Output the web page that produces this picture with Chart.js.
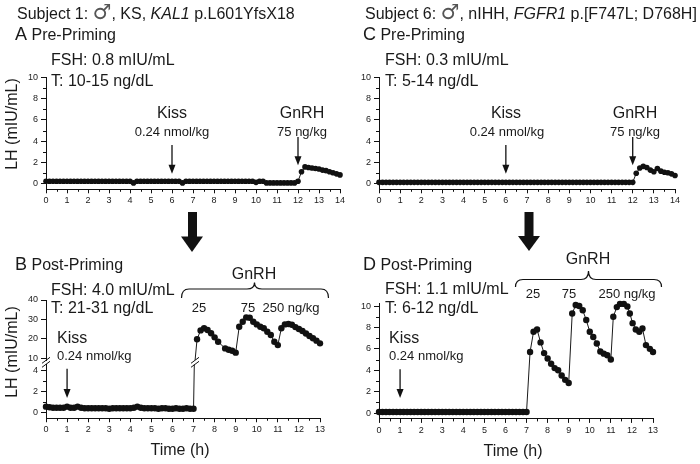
<!DOCTYPE html>
<html>
<head>
<meta charset="utf-8">
<script src="https://cdn.jsdelivr.net/npm/chart.js@4.4.1/dist/chart.umd.min.js"></script>
<style>
  body { margin: 0; background: #fff; }
  #fig { position: relative; width: 700px; height: 464px; overflow: hidden;
         font-family: "Liberation Sans", Arial, sans-serif; color: #1a1a1a; }
  #fig canvas, #fig svg { position: absolute; }
  .t { position: absolute; white-space: nowrap; line-height: 1; font-size: 16px; }
  .c { transform: translateX(-50%); }
  .s { font-size: 13px; }
  .sex { font-family: "DejaVu Sans", sans-serif; font-size: 21px; color: #555; }
</style>
</head>
<body>
<div id="fig">
  <canvas id="chartA" width="350" height="150" style="left:0;top:60px"></canvas>
  <canvas id="chartC" width="350" height="150" style="left:350px;top:60px"></canvas>
  <canvas id="chartBtop" width="350" height="80" style="left:0;top:290px"></canvas>
  <canvas id="chartBlow" width="350" height="90" style="left:0;top:350px"></canvas>
  <canvas id="chartD" width="350" height="150" style="left:350px;top:290px"></canvas>

  <svg width="700" height="464" style="left:0;top:0">
    <g fill="#111">
      <rect x="188" y="212" width="9" height="26"/>
      <polygon points="181,236.5 203,236.5 192,252"/>
      <rect x="524.5" y="212" width="9" height="26"/>
      <polygon points="518,236 540,236 529,251"/>
    </g>
    <g fill="none" stroke="#111" stroke-width="1.2">
      <path d="M181.5,298 Q181.5,289 189,289 L247,289 Q254.5,289 254.5,282.5 Q254.5,289 262,289 L321,289 Q328.5,289 328.5,298"/>
      <path d="M515.5,287 Q515.5,279.5 523,279.5 L581,279.5 Q588.5,279.5 588.5,271 Q588.5,279.5 596,279.5 L654,279.5 Q661.5,279.5 661.5,287"/>
    </g>
  </svg>

  <div class="t" style="left:17px;top:2px">Subject 1: <span class="sex">♂</span>, KS, <i>KAL1</i> p.L601YfsX18</div>
  <div class="t" style="left:365px;top:2px">Subject 6: <span class="sex">♂</span>, nIHH, <i>FGFR1</i> p.[F747L; D768H]</div>
  <div class="t" style="left:15px;top:25px"><span style="font-size:18px">A</span> Pre-Priming</div>
  <div class="t" style="left:363px;top:25px"><span style="font-size:18px">C</span> Pre-Priming</div>
  <div class="t" style="left:51px;top:52px">FSH: 0.8 mIU/mL</div>
  <div class="t" style="left:51px;top:72.5px">T: 10-15 ng/dL</div>
  <div class="t" style="left:385px;top:52px">FSH: 0.3 mIU/mL</div>
  <div class="t" style="left:385px;top:72.5px">T: 5-14 ng/dL</div>
  <div class="t c" style="left:172px;top:105px">Kiss</div>
  <div class="t c s" style="left:172px;top:124.5px">0.24 nmol/kg</div>
  <div class="t c" style="left:302px;top:105px">GnRH</div>
  <div class="t c s" style="left:302px;top:124.5px">75 ng/kg</div>
  <div class="t c" style="left:506px;top:105px">Kiss</div>
  <div class="t c s" style="left:507px;top:124.5px">0.24 nmol/kg</div>
  <div class="t c" style="left:635px;top:105px">GnRH</div>
  <div class="t c s" style="left:635px;top:124.5px">75 ng/kg</div>

  <div class="t" style="left:15px;top:255px"><span style="font-size:18px">B</span> Post-Priming</div>
  <div class="t" style="left:363px;top:255px"><span style="font-size:18px">D</span> Post-Priming</div>
  <div class="t" style="left:51px;top:282px">FSH: 4.0 mIU/mL</div>
  <div class="t" style="left:51px;top:300px">T: 21-31 ng/dL</div>
  <div class="t" style="left:385px;top:281px">FSH: 1.1 mIU/mL</div>
  <div class="t" style="left:385px;top:300px">T: 6-12 ng/dL</div>
  <div class="t" style="left:57px;top:329.5px">Kiss</div>
  <div class="t s" style="left:57px;top:348.5px">0.24 nmol/kg</div>
  <div class="t" style="left:389px;top:329.5px">Kiss</div>
  <div class="t s" style="left:389px;top:348.5px">0.24 nmol/kg</div>
  <div class="t c" style="left:254px;top:266px">GnRH</div>
  <div class="t c s" style="left:199px;top:300.5px">25</div>
  <div class="t c s" style="left:248px;top:300.5px">75</div>
  <div class="t c s" style="left:291px;top:300.5px">250 ng/kg</div>
  <div class="t c" style="left:588px;top:251px">GnRH</div>
  <div class="t c s" style="left:533px;top:286.5px">25</div>
  <div class="t c s" style="left:569px;top:286.5px">75</div>
  <div class="t c s" style="left:627px;top:286.5px">250 ng/kg</div>
  <div class="t c" style="left:180px;top:442px">Time (h)</div>
  <div class="t c" style="left:513px;top:443px">Time (h)</div>
  <div class="t" style="left:12px;top:124px;transform:translate(-50%,-50%) rotate(-90deg)">LH (mIU/mL)</div>
  <div class="t" style="left:12px;top:352px;transform:translate(-50%,-50%) rotate(-90deg)">LH (mIU/mL)</div>
</div>

<script>
// sampling times (minutes) and LH (mIU/mL)
const timesPre = [0,10,20,30,40,50,60,70,80,90,
  100,110,120,130,140,150,160,170,180,190,
  200,210,220,230,240,250,260,270,280,290,
  300,310,320,330,340,350,360,370,380,390,
  400,410,420,430,440,450,460,470,480,490,
  500,510,520,530,540,550,560,570,580,590,
  600,610,620,630,640,650,660,670,680,690,
  700,710,720,730,740,750,760,770,780,790,
  800,810,820,830,840];

const lhA = [0.25,0.25,0.25,0.25,0.25,0.25,0.25,0.25,0.25,0.25,
  0.25,0.25,0.25,0.25,0.25,0.25,0.25,0.25,0.25,0.25,
  0.25,0.25,0.25,0.25,0.25,0.1,0.25,0.25,0.25,0.25,
  0.25,0.25,0.25,0.25,0.25,0.25,0.25,0.25,0.25,0.1,
  0.25,0.25,0.25,0.25,0.25,0.25,0.25,0.25,0.25,0.25,
  0.25,0.25,0.25,0.25,0.25,0.25,0.25,0.25,0.25,0.25,
  0.15,0.25,0.25,0.1,0.1,0.1,0.1,0.1,0.1,0.1,
  0.1,0.1,0.25,1.15,1.6,1.55,1.5,1.45,1.4,1.3,
  1.25,1.15,1.05,0.95,0.85];

const lhC = [0.15,0.15,0.15,0.15,0.15,0.15,0.15,0.15,0.15,0.15,
  0.15,0.15,0.15,0.15,0.15,0.15,0.15,0.15,0.15,0.15,
  0.15,0.15,0.15,0.15,0.15,0.15,0.15,0.15,0.15,0.15,
  0.15,0.15,0.15,0.15,0.15,0.15,0.15,0.15,0.15,0.15,
  0.15,0.15,0.15,0.15,0.15,0.15,0.15,0.15,0.15,0.15,
  0.15,0.15,0.15,0.15,0.15,0.15,0.15,0.15,0.15,0.15,
  0.15,0.15,0.15,0.15,0.15,0.15,0.15,0.15,0.15,0.15,
  0.15,0.15,0.15,1.0,1.5,1.65,1.55,1.3,1.15,1.45,
  1.2,1.1,1.05,0.95,0.8];

const timesB = [0,10,20,30,40,50,60,70,80,90,
  100,110,120,130,140,150,160,170,180,190,
  200,210,220,230,240,250,260,270,280,290,
  300,310,320,330,340,350,360,370,380,390,
  400,410,420,
  430,440,450,460,470,480,490,
  510,520,530,540,
  550,560,570,580,590,600,610,620,630,640,650,660,
  670,680,690,700,710,720,730,740,750,760,770,780];

const lhB = [0.6,0.55,0.5,0.5,0.5,0.5,0.6,0.5,0.5,0.6,
  0.5,0.45,0.45,0.45,0.45,0.45,0.45,0.45,0.4,0.45,
  0.45,0.45,0.45,0.45,0.45,0.5,0.6,0.5,0.45,0.45,
  0.45,0.45,0.4,0.45,0.45,0.4,0.4,0.45,0.4,0.4,
  0.45,0.4,0.4,
  19.7,24.3,25.4,24.5,22.8,20.7,18.4,
  15.0,14.3,13.8,12.8,
  26.2,28.8,31.0,30.8,28.8,27.4,26.2,25.4,23.6,21.9,18.4,16.7,
  25.4,27.4,27.6,27.2,26.0,25.0,24.0,22.7,21.4,20.2,19.0,17.6];

const timesD = [0,10,20,30,40,50,60,70,80,90,
  100,110,120,130,140,150,160,170,180,190,
  200,210,220,230,240,250,260,270,280,290,
  300,310,320,330,340,350,360,370,380,390,
  400,410,420,
  430,440,450,460,470,480,490,500,510,520,530,540,
  550,560,570,580,590,600,610,620,630,640,650,660,
  667,677,686,697,707,714,722,731,741,750,760,771,780];

const lhD = [0.1,0.1,0.1,0.1,0.1,0.1,0.1,0.1,0.1,0.1,
  0.1,0.1,0.1,0.1,0.1,0.1,0.1,0.1,0.1,0.1,
  0.1,0.1,0.1,0.1,0.1,0.1,0.1,0.1,0.1,0.1,
  0.1,0.1,0.1,0.1,0.1,0.1,0.1,0.1,0.1,0.1,
  0.1,0.1,0.1,
  5.7,7.6,7.8,6.6,5.6,5.1,4.6,4.2,4.0,3.5,3.1,2.8,
  9.3,10.1,10.0,9.6,8.7,7.6,7.1,6.5,5.75,5.55,5.4,5.0,
  9.0,9.9,10.2,10.2,9.95,9.3,8.4,7.8,7.6,7.9,6.35,6.0,5.7];

// axis ticks
const hours14 = [0,1,2,3,4,5,6,7,8,9,10,11,12,13,14];
const hours13 = [0,1,2,3,4,5,6,7,8,9,10,11,12,13];
const half14 = [0.5,1.5,2.5,3.5,4.5,5.5,6.5,7.5,8.5,9.5,10.5,11.5,12.5,13.5];
const half13 = [0.5,1.5,2.5,3.5,4.5,5.5,6.5,7.5,8.5,9.5,10.5,11.5,12.5];
const lhTicks10 = [0,2,4,6,8,10];
const lhMinor10 = [1,3,5,7,9];
const lhTicksHigh = [10,20,30,40];
const lhTicksLow = [0,2,4];
const lhMinorLow = [1,3];

Chart.defaults.font.family = '"Liberation Sans", Arial, sans-serif';
Chart.defaults.color = '#222';

function series(times, values) {
  return times.map((m, i) => ({ x: m / 60, y: values[i] }));
}

// minor ticks, dose arrows and axis breaks
function deco(o) {
  return {
    id: 'deco',
    afterDatasetsDraw(chart) {
      const ctx = chart.ctx, a = chart.chartArea;
      const x = chart.scales.x, y = chart.scales.y;
      ctx.save();
      ctx.strokeStyle = '#111';
      ctx.fillStyle = '#111';
      ctx.lineWidth = 1;
      ctx.beginPath();
      (o.xMinor || []).forEach(v => {
        const p = Math.round(x.getPixelForValue(v)) + 0.5;
        ctx.moveTo(p, a.bottom);
        ctx.lineTo(p, a.bottom + 2.5);
      });
      (o.yMinor || []).forEach(v => {
        const p = Math.round(y.getPixelForValue(v)) + 0.5;
        ctx.moveTo(a.left - 3, p);
        ctx.lineTo(a.left, p);
      });
      ctx.stroke();

      (o.arrows || []).forEach(ar => {
        const px = x.getPixelForValue(ar.x);
        const p1 = y.getPixelForValue(ar.from), p2 = y.getPixelForValue(ar.to);
        ctx.beginPath();
        ctx.lineWidth = 1.3;
        ctx.moveTo(px, p1);
        ctx.lineTo(px, p2 - 7);
        ctx.stroke();
        ctx.beginPath();
        ctx.moveTo(px - 3.5, p2 - 9);
        ctx.lineTo(px + 3.5, p2 - 9);
        ctx.lineTo(px, p2);
        ctx.closePath();
        ctx.fill();
      });

      ctx.lineWidth = 1;
      (o.breaks || []).forEach(v => {
        const px = x.getPixelForValue(v), yc = a.top - 2.2;
        ctx.beginPath();
        [-2, 2].forEach(d => {
          ctx.moveTo(px - 4, yc + d + 3);
          ctx.lineTo(px + 4, yc + d - 3);
        });
        ctx.stroke();
      });
      ctx.restore();
    }
  };
}

function panel(id, o) {
  const tickFont = { size: 9 };
  return new Chart(document.getElementById(id), {
    type: 'line',
    data: {
      datasets: [{
        data: series(o.times, o.values),
        borderColor: '#1a1a1a',
        borderWidth: 1,
        pointRadius: o.r,
        pointHoverRadius: o.r,
        pointBackgroundColor: '#111',
        pointBorderWidth: 0,
        tension: 0,
        clip: o.clip
      }]
    },
    options: {
      responsive: false,
      animation: false,
      events: [],
      layout: { padding: o.pad },
      plugins: { legend: { display: false }, tooltip: { enabled: false } },
      scales: {
        x: {
          type: 'linear',
          min: 0,
          max: o.xTicks[o.xTicks.length - 1],
          display: o.showX !== false,
          afterBuildTicks: s => { s.ticks = o.xTicks.map(v => ({ value: v })); },
          afterFit: s => { s.height = o.xH; },
          ticks: { font: tickFont, padding: 2, maxRotation: 0, autoSkip: false },
          grid: { drawOnChartArea: false, tickLength: 4, color: '#111' },
          border: { color: '#111', width: 1 }
        },
        y: {
          min: o.yMin,
          max: o.yMax,
          afterBuildTicks: s => { s.ticks = o.yTicks.map(v => ({ value: v })); },
          afterFit: s => { s.width = o.yW; },
          ticks: { font: tickFont, padding: 3 },
          grid: { drawOnChartArea: false, tickLength: 5, color: '#111' },
          border: { color: '#111', width: 1 }
        }
      }
    },
    plugins: [deco(o)]
  });
}

// A - pre-priming, subject 1
panel('chartA', {
  times: timesPre, values: lhA, r: 2.8, clip: 5,
  pad: { left: 0, top: 17.3, right: 10, bottom: 0 }, yW: 46, xH: 20.7,
  xTicks: hours14, xMinor: half14,
  yMin: -0.5, yMax: 10, yTicks: lhTicks10, yMinor: lhMinor10,
  arrows: [{ x: 6, from: 3.66, to: 0.95 }, { x: 12, from: 4.4, to: 1.75 }]
});

// C - pre-priming, subject 6
panel('chartC', {
  times: timesPre, values: lhC, r: 2.8, clip: 5,
  pad: { left: 0, top: 17.3, right: 25, bottom: 0 }, yW: 29, xH: 20.7,
  xTicks: hours14, xMinor: half14,
  yMin: -0.5, yMax: 10, yTicks: lhTicks10, yMinor: lhMinor10,
  arrows: [{ x: 6, from: 3.66, to: 0.95 }, { x: 12, from: 4.4, to: 1.75 }]
});

// B - post-priming, subject 1 (broken y axis: upper and lower segments)
panel('chartBtop', {
  times: timesB, values: lhB, r: 3.2, clip: { left: 5, right: 5, top: 5, bottom: 0 },
  pad: { left: 0, top: 10, right: 30, bottom: 10 }, yW: 46, xH: 0, showX: false,
  xTicks: hours13,
  yMin: 9, yMax: 40, yTicks: lhTicksHigh
});

panel('chartBlow', {
  times: timesB, values: lhB, r: 3.2, clip: { left: 5, right: 5, top: 0, bottom: 5 },
  pad: { left: 0, top: 14.5, right: 30, bottom: 0 }, yW: 46, xH: 21.75,
  xTicks: hours13, xMinor: half13,
  yMin: -0.5, yMax: 4.6, yTicks: lhTicksLow, yMinor: lhMinorLow,
  arrows: [{ x: 1, from: 4.2, to: 1.43 }],
  breaks: [0, 7.07]
});

// D - post-priming, subject 6
panel('chartD', {
  times: timesD, values: lhD, r: 3.2, clip: 5,
  pad: { left: 0, top: 13.9, right: 47, bottom: 0 }, yW: 29, xH: 21.1,
  xTicks: hours13, xMinor: half13,
  yMin: -0.55, yMax: 10.2, yTicks: lhTicks10, yMinor: lhMinor10,
  arrows: [{ x: 1, from: 4.1, to: 1.4 }]
});
</script>
</body>
</html>
